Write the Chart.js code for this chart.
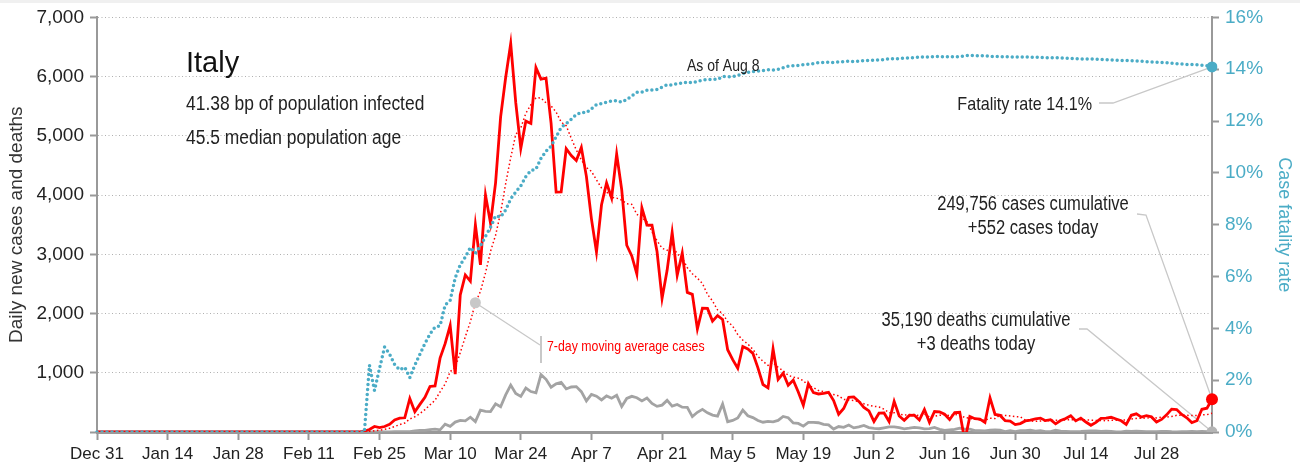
<!DOCTYPE html>
<html><head><meta charset="utf-8">
<script src="https://cdn.jsdelivr.net/npm/chart.js@4.4.1/dist/chart.umd.min.js"></script>
<style>html,body{margin:0;padding:0;background:#fff;overflow:hidden}#wrap{width:1300px;height:472px;position:relative}</style>
</head><body><div id="wrap"><canvas id="c" width="1300" height="472"></canvas></div>
<script>
// ---- DATA (chart dates Dec 31 .. Aug 8, daily) ----
const startDate = [2019, 11, 31];
const dayCount = 222;
const tickLabels = ['Dec 31','Jan 14','Jan 28','Feb 11','Feb 25','Mar 10','Mar 24','Apr 7','Apr 21','May 5','May 19','Jun 2','Jun 16','Jun 30','Jul 14','Jul 28'];

const dailyCases = [
0,0,0,0,0,0,0,0,0,0,0,0,0,0,0,0,0,0,0,0,0,0,0,0,0,0,0,0,0,0,0,0,0,0,0,0,0,0,0,0,0,0,0,0,0,0,0,0,0,0,0,0,0,
17,42,93,74,93,131,202,233,
240,566,342,466,587,769,778,1247,1492,1797,977,2313,2651,2547,3497,2823,4000,3526,4207,5322,5986,6557,5560,4789,5249,5210,6153,5959,5974,5217,4050,
4053,4782,4668,4585,4805,4316,3599,3039,3836,4204,3951,4694,4092,3153,2972,2667,3786,3493,3491,3047,2256,2729,3370,2646,3021,2357,2324,1739,2091,2086,
1872,1965,1900,1389,1221,1075,1444,1401,1327,1083,802,744,1402,888,992,789,875,675,451,813,665,642,652,669,531,300,397,584,593,516,416,
355,178,318,321,177,518,270,197,280,283,202,379,163,346,338,301,210,329,333,-148,262,224,218,160,577,296,280,190,185,126,
142,187,201,223,235,192,208,138,193,229,276,188,234,169,114,162,230,233,249,219,190,129,282,306,252,275,255,170,212,289,386,
379,295,239,159,190,384,402,552];

const dailyDeaths = [
0,0,0,0,0,0,0,0,0,0,0,0,0,0,0,0,0,0,0,0,0,0,0,0,0,0,0,0,0,0,0,0,0,0,0,0,0,0,0,0,0,0,0,0,0,0,0,0,0,0,0,0,0,
1,1,1,4,3,2,5,4,
8,5,18,27,28,41,49,36,133,97,168,196,189,250,175,368,349,345,475,427,627,793,651,601,743,683,662,969,889,756,812,
837,727,760,766,681,525,636,604,542,610,570,619,431,566,602,578,525,575,482,433,454,534,437,464,420,415,260,333,382,323,
285,269,474,174,195,236,369,274,243,194,165,179,172,195,262,242,153,145,99,162,161,156,130,119,50,92,78,117,70,87,111,
75,60,55,71,88,85,72,53,65,79,71,53,56,78,44,26,34,43,66,47,49,24,23,18,30,34,30,8,22,6,
23,21,30,15,21,7,8,30,15,12,7,7,9,13,17,20,11,13,11,3,3,15,9,15,10,5,5,5,11,11,6,
3,5,4,12,5,10,6,3];

const movingAvgCases = [
0,0,0,0,0,0,0,0,0,0,0,0,0,0,0,0,0,0,0,0,0,0,0,0,0,0,0,0,0,0,0,0,0,0,0,0,0,0,0,0,0,0,0,0,0,0,0,0,0,0,0,0,0,
2,8,22,32,46,64,93,124,
152,220,258,311,377,458,535,679,812,1019,1092,1339,1608,1861,2182,2372,2687,3051,3322,3703,4194,4632,5023,5135,5381,5525,5643,5640,5556,5507,5402,
5231,5170,4958,4761,4594,4466,4401,4256,4121,4055,3964,3948,3916,3853,3843,3676,3616,3551,3379,3230,3102,3067,3167,3005,2937,2775,2672,2598,2507,2323,
2213,2062,1997,1863,1789,1644,1552,1485,1394,1277,1193,1125,1172,1092,1034,957,927,909,867,783,751,701,682,652,632,610,551,539,532,513,477,
452,434,423,385,326,326,305,283,297,292,275,304,253,264,284,287,277,295,289,244,232,216,204,197,232,227,288,278,272,259,
257,201,187,179,186,187,198,198,199,203,210,203,209,204,200,196,196,190,199,197,200,202,219,230,232,236,241,238,250,251,263,
281,284,281,280,277,290,293,317];

const fatalityRate = [
0,0,0,0,0,0,0,0,0,0,0,0,0,0,0,0,0,0,0,0,0,0,0,0,0,0,0,0,0,0,0,0,0,0,0,0,0,0,0,0,0,0,0,0,0,0,0,0,0,0,0,0,0,
0,2.58,1.6,2.45,3.28,3.0,2.6,2.4,
2.5,2.1,2.58,3.0,3.42,3.78,4.05,4.1,4.9,5.08,5.95,6.45,6.75,7.12,6.9,7.18,7.55,7.9,8.34,8.3,8.57,9.0,9.26,9.5,9.86,10.09,10.14,10.56,10.84,11.03,11.39,
11.75,11.9,12.07,12.25,12.33,12.32,12.47,12.63,12.67,12.73,12.77,12.79,12.73,12.83,12.97,13.11,13.12,13.19,13.2,13.22,13.31,13.4,13.39,13.45,13.46,13.51,13.48,13.53,13.58,13.6,
13.61,13.61,13.72,13.71,13.72,13.76,13.84,13.88,13.91,13.93,13.95,13.98,13.97,14.0,14.06,14.12,14.13,14.15,14.17,14.19,14.22,14.25,14.26,14.27,14.26,14.28,14.29,14.31,14.3,14.31,14.33,
14.34,14.35,14.36,14.37,14.4,14.4,14.41,14.43,14.44,14.45,14.47,14.47,14.48,14.49,14.49,14.48,14.49,14.48,14.49,14.52,14.53,14.52,14.52,14.52,14.49,14.49,14.49,14.48,14.48,14.47,
14.47,14.47,14.47,14.46,14.46,14.45,14.44,14.44,14.44,14.43,14.42,14.41,14.4,14.39,14.39,14.39,14.38,14.37,14.36,14.35,14.34,14.34,14.33,14.32,14.31,14.29,14.28,14.27,14.26,14.25,14.23,
14.21,14.2,14.18,14.18,14.17,14.15,14.13,14.09];

const maMarkerLabel = 'Mar 15';

// ---- category labels ----
const monthNames = ['Jan','Feb','Mar','Apr','May','Jun','Jul','Aug','Sep','Oct','Nov','Dec'];
const dates = [];
for (let i = 0; i < dayCount; i++) {
  const d = new Date(Date.UTC(startDate[0], startDate[1], startDate[2] + i));
  dates.push(monthNames[d.getUTCMonth()] + ' ' + d.getUTCDate());
}
const last = dates.length - 1;
const maMarker = dates.indexOf(maMarkerLabel);

const TEAL = '#4bacc6';
const RED = '#ff0000';
const GREY = '#a3a3a3';
const FONT = "'Liberation Sans',Arial,sans-serif";
Chart.defaults.font.family = FONT;

const annot = {
  id: 'annot',
  beforeDraw(chart) {
    const ctx = chart.ctx;
    ctx.save();
    ctx.fillStyle = '#f0f0f0';
    ctx.fillRect(0, 0, chart.width, 3);
    ctx.restore();
  },
  beforeDatasetsDraw(chart) {
    const {ctx, scales: {x, y, y2}} = chart;
    const px = x.getPixelForValue(last);
    ctx.save();
    ctx.strokeStyle = '#c8c8c8';
    ctx.lineWidth = 1.3;
    const poly = pts => { ctx.beginPath(); ctx.moveTo(pts[0][0], pts[0][1]); for (let i = 1; i < pts.length; i++) ctx.lineTo(pts[i][0], pts[i][1]); ctx.stroke(); };
    poly([[1099, 103], [1113, 103], [px, y2.getPixelForValue(fatalityRate[last])]]);
    poly([[1137, 214], [1146, 215], [px, y.getPixelForValue(dailyCases[last])]]);
    poly([[1079, 329], [1087, 329], [px, y.getPixelForValue(dailyDeaths[last])]]);
    poly([[x.getPixelForValue(maMarker), y.getPixelForValue(movingAvgCases[maMarker])], [540, 345]]);
    ctx.lineWidth = 2;
    poly([[541, 336], [541, 363]]);
    ctx.restore();
  },
  afterDatasetsDraw(chart) {
    const ctx = chart.ctx;
    const t = (s, xx, yy, size, color, align, base, sx) => {
      ctx.save();
      ctx.font = size + 'px ' + FONT;
      ctx.fillStyle = color;
      ctx.textAlign = align || 'left';
      ctx.textBaseline = base || 'alphabetic';
      ctx.translate(xx, yy);
      ctx.scale(sx || 0.85, 1);
      ctx.fillText(s, 0, 0);
      ctx.restore();
    };
    t('Italy', 186, 72, 29, '#111', 'left', 'alphabetic', 1);
    t('41.38 bp of population infected', 186, 110, 20.5, '#222');
    t('45.5 median population age', 186, 144, 20.5, '#222');
    t('As of Aug 8', 687, 71, 16.5, '#222');
    t('Fatality rate 14.1%', 1092, 110, 19, '#222', 'right');
    t('249,756 cases cumulative', 1033, 210, 19.5, '#222', 'center');
    t('+552 cases today', 1033, 234, 19.5, '#222', 'center');
    t('35,190 deaths cumulative', 976, 326, 19.5, '#222', 'center');
    t('+3 deaths today', 976, 350, 19.5, '#222', 'center');
    t('7-day moving average cases', 547, 347, 14.5, RED, 'left', 'middle');
  }
};

new Chart(document.getElementById('c'), {
  type: 'line',
  data: {
    labels: dates,
    datasets: [
      { label: 'Case fatality rate', data: fatalityRate, yAxisID: 'y2', borderColor: TEAL, borderWidth: 3.5,
        borderDash: [0, 5], borderCapStyle: 'round', fill: false, tension: 0, order: 1,
        pointRadius: c => c.dataIndex === last ? 5.5 : 0, pointBackgroundColor: TEAL, pointBorderWidth: 0 },
      { label: 'Daily cases', data: dailyCases, yAxisID: 'y', borderColor: RED, borderWidth: 2.8, fill: false, tension: 0, order: 2,
        pointRadius: c => c.dataIndex === last ? 6 : 0, pointBackgroundColor: RED, pointBorderWidth: 0 },
      { label: '7-day moving average cases', data: movingAvgCases, yAxisID: 'y', borderColor: RED, borderWidth: 1.5,
        borderDash: [1.5, 2.5], fill: false, tension: 0, order: 3,
        pointRadius: c => c.dataIndex === maMarker ? 5.5 : 0, pointBackgroundColor: '#c8c8c8', pointBorderWidth: 0 },
      { label: 'Daily deaths', data: dailyDeaths, yAxisID: 'y', borderColor: GREY, borderWidth: 2.8, fill: false, tension: 0, order: 4,
        pointRadius: c => c.dataIndex === last ? 5.5 : 0, pointBackgroundColor: '#b4b4b4', pointBorderWidth: 0 }
    ]
  },
  options: {
    responsive: false,
    animation: false,
    devicePixelRatio: 1,
    layout: { padding: { top: 16, left: 0, right: 0, bottom: 0 } },
    plugins: { legend: { display: false }, tooltip: { enabled: false } },
    events: [],
    scales: {
      x: {
        type: 'category',
        offset: false,
        border: { color: '#999', width: 3 },
        grid: { drawOnChartArea: false, drawTicks: true, tickLength: 8, tickWidth: 2,
          tickColor: c => tickLabels.includes(dates[c.index]) ? '#999' : 'rgba(0,0,0,0)' },
        ticks: { autoSkip: false, maxRotation: 0, minRotation: 0, padding: 4, color: '#222', font: { size: 17 },
          callback: (v, i) => tickLabels.includes(dates[i]) ? dates[i] : '' },
        afterFit: s => { s.height = 40; }
      },
      y: {
        position: 'left', min: 0, max: 7000,
        border: { color: '#999', width: 2, dash: [1, 2.5] },
        grid: { color: c => (c.tick && c.tick.value === 0) ? 'rgba(0,0,0,0)' : '#b0b0b0', lineWidth: 1,
          drawTicks: true, tickLength: 7, tickWidth: 2, tickColor: '#999', tickBorderDash: [] },
        ticks: { stepSize: 1000, color: '#222', font: { size: 19 }, padding: 6,
          callback: v => v === 0 ? '' : v.toLocaleString('en-US') },
        title: { display: true, text: 'Daily new cases and deaths', color: '#333', font: { size: 19 }, padding: { top: 5, bottom: 0 } },
        afterFit: s => { s.width = 97; }
      },
      y2: {
        position: 'right', min: 0, max: 16,
        border: { color: '#999', width: 2 },
        grid: { drawOnChartArea: false, drawTicks: true, tickLength: 7, tickWidth: 2, tickColor: '#999' },
        ticks: { stepSize: 2, color: TEAL, font: { size: 19 }, padding: 6, callback: v => v + '%' },
        title: { display: true, text: 'Case fatality rate', color: TEAL, font: { size: 18 }, padding: { top: 5, bottom: 0 } },
        afterFit: s => { s.width = 88; }
      }
    }
  },
  plugins: [annot]
});
</script></body></html>
